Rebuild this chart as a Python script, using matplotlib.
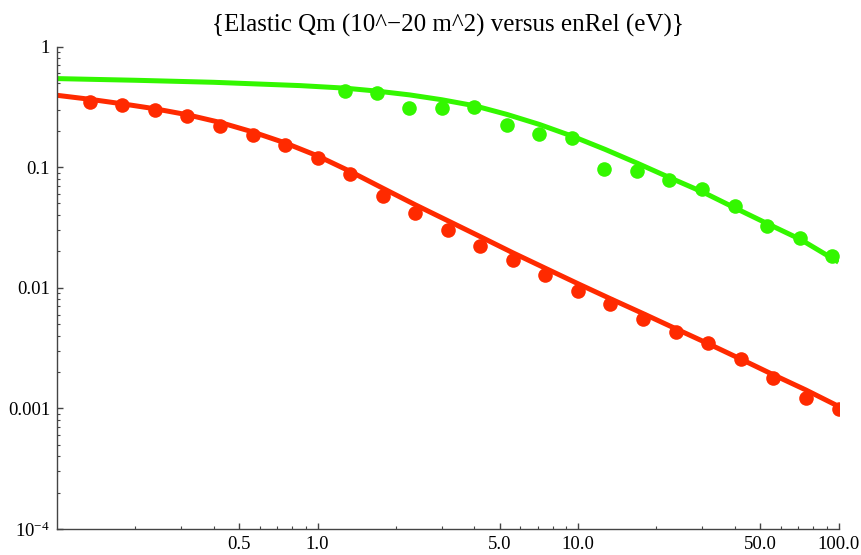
import matplotlib
matplotlib.use("Agg")
import matplotlib.pyplot as plt

plt.rcParams['font.family'] = ['Liberation Serif', 'DejaVu Serif']
plt.rcParams['mathtext.default'] = 'regular'

# measured points (enRel in eV, Qm in 10^-20 m^2)
red_x = [0.134, 0.178, 0.237, 0.316, 0.422, 0.563, 0.75, 1.0, 1.33, 1.78, 2.37, 3.16,
         4.22, 5.62, 7.5, 10.0, 13.3, 17.8, 23.7, 31.6, 42.2, 56.2, 75.0, 100.0]
red_y = [0.350, 0.326, 0.296, 0.264, 0.220, 0.186, 0.154, 0.120, 0.088, 0.058, 0.0417, 0.0300,
         0.0221, 0.0169, 0.0128, 0.00937, 0.00731, 0.00546, 0.00429, 0.00350, 0.00255, 0.00177, 0.00123, 0.00098]

green_x = [1.27, 1.69, 2.25, 3.0, 4.0, 5.33, 7.1, 9.47, 12.6, 16.8, 22.4, 29.9, 39.9, 53.2, 71.0, 94.6]
green_y = [0.424, 0.412, 0.312, 0.312, 0.315, 0.225, 0.190, 0.176, 0.0966, 0.093, 0.0779, 0.066,
           0.0472, 0.0328, 0.0258, 0.0183]

# fitted curves
red_fit_x = [0.1, 0.134, 0.178, 0.237, 0.316, 0.422, 0.563, 0.75, 1.0, 1.33, 1.78, 2.37, 3.16,
             4.22, 5.62, 7.5, 10.0, 13.3, 17.8, 23.7, 31.6, 42.2, 56.2, 75.0, 100.0]
red_fit_y = [0.394, 0.365, 0.335, 0.305, 0.272, 0.235, 0.196, 0.159, 0.124, 0.0925, 0.0669, 0.0488, 0.036,
             0.0265, 0.0195, 0.0145, 0.0108, 0.00812, 0.0061, 0.00458, 0.00344, 0.00256, 0.0019, 0.00142, 0.00104]

green_fit_x = [0.1, 0.2, 0.4, 0.86, 1.27, 1.69, 2.26, 3.0, 4.01, 5.34, 7.13, 9.52, 12.7, 16.9,
               22.6, 30.2, 40.2, 53.6, 71.6, 100.0]
green_fit_y = [0.542, 0.525, 0.505, 0.474, 0.452, 0.427, 0.397, 0.362, 0.3226, 0.2734, 0.2254, 0.1803,
               0.1404, 0.1077, 0.0814, 0.0620, 0.0457, 0.0338, 0.0251, 0.01632]

red = '#ff2a00'
green = '#33f700'

fig = plt.figure(figsize=(8.61, 5.55), dpi=100)
ax = fig.add_axes([0.0662, 0.0468, 0.9077, 0.8694])

ax.plot(red_fit_x, red_fit_y, color=red, lw=3.6, solid_capstyle='butt')
ax.plot(green_fit_x, green_fit_y, color=green, lw=3.6, solid_capstyle='butt')
ax.plot(red_x, red_y, 'o', color=red, ms=10.5, mew=0)
ax.plot(green_x, green_y, 'o', color=green, ms=10.5, mew=0)

ax.set_xscale('log')
ax.set_yscale('log')
ax.set_xlim(0.1, 100)
ax.set_ylim(1e-4, 1)

# Mathematica-like axes: only left and bottom, ticks inside
for s in ['top', 'right']:
    ax.spines[s].set_visible(False)
for s in ['left', 'bottom']:
    ax.spines[s].set_color('#444444')
    ax.spines[s].set_linewidth(1.0)

ax.set_xticks([0.5, 1, 5, 10, 50, 100], ['0.5', '1.0', '5.0', '10.0', '50.0', '100.0'])
ax.set_xticks([0.2, 0.3, 0.4, 0.6, 0.7, 0.8, 0.9, 2, 3, 4, 6, 7, 8, 9,
               20, 30, 40, 60, 70, 80, 90], minor=True)
ax.set_xticklabels([], minor=True)

yminor = []
for d in [1e-4, 1e-3, 1e-2, 1e-1]:
    yminor += [d * k for k in range(2, 10)]
ax.set_yticks([1e-4, 1e-3, 1e-2, 0.1, 1], [r'$10^{-4}$', '0.001', '0.01', '0.1', '1'])
ax.set_yticks(yminor, minor=True)
ax.set_yticklabels([], minor=True)

ax.tick_params(which='both', direction='in', color='#444444', labelsize=13.5, labelcolor='black')
ax.tick_params(which='major', length=4.5, width=1.0, pad=5)
ax.tick_params(which='minor', length=2.5, width=0.8)

ax.set_title('{Elastic Qm (10^\u221220 m^2) versus enRel (eV)}', fontsize=18, pad=11)

fig.savefig('out.png', dpi=100)
